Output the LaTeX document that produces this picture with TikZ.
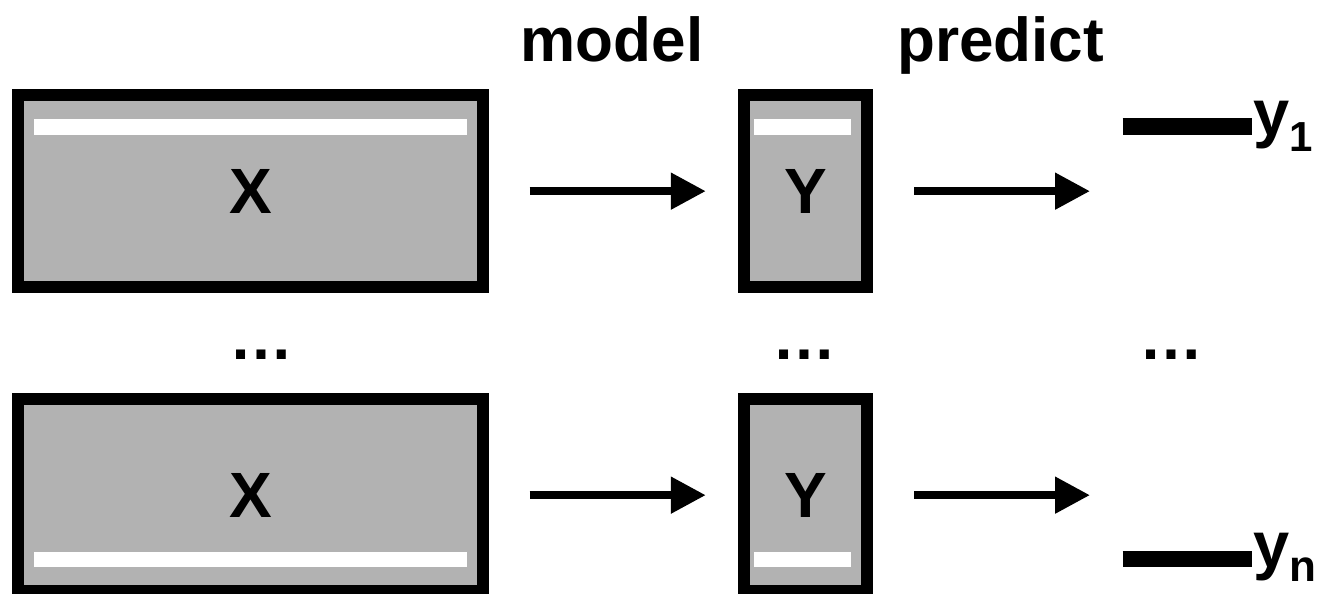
\documentclass[tikz,border=0pt]{standalone}
\usepackage{fontspec}
\setmainfont{Liberation Sans}
\usetikzlibrary{arrows.meta}
\definecolor{boxgray}{RGB}{178,178,178}
\begin{document}
\begin{tikzpicture}[x=1pt,y=-1pt,
  box/.style={draw=black, fill=boxgray, line width=12pt, inner sep=0pt,
    font=\fontsize{64pt}{64pt}\selectfont\bfseries},
  bigbox/.style={box, minimum width=464.4pt, minimum height=191.7pt},
  smallbox/.style={box, minimum width=123pt, minimum height=191.7pt},
  arr/.style={line width=8pt, -{Triangle[length=35pt,width=35pt]}},
  lbl/.style={font=\fontsize{62pt}{62pt}\selectfont\bfseries, inner sep=0pt, anchor=base},
  dotlbl/.style={font=\fontsize{64pt}{64pt}\selectfont\bfseries, inner sep=0pt, anchor=base},
  bar/.style={fill=white},
  outline/.style={line width=16.5pt},
  outlbl/.style={inner sep=0pt, anchor=base west, font=\bfseries}]
\useasboundingbox (0,0) rectangle (1320,594);

% headers
\node[lbl] (model) at (612,62) {model};
\node[lbl] (predict) at (1000.5,62) {predict};

% boxes
\node[bigbox] (X1) at (250.5,191.15) {X};
\node[smallbox] (Y1) at (805.8,191.15) {Y};
\node[bigbox] (X2) at (250.5,495.15) {X};
\node[smallbox] (Y2) at (805.8,495.15) {Y};

% white bars
\fill[bar] (34.3,119.3) rectangle (466.7,135.3);
\fill[bar] (754.3,119.3) rectangle (850.7,135.3);
\fill[bar] (34.3,551.7) rectangle (466.7,567.3);
\fill[bar] (754.3,551.7) rectangle (850.7,567.3);

% arrows
\coordinate (P1) at (1090,191.15);
\coordinate (P2) at (1090,495.15);
\draw[arr, shorten <=41pt, shorten >=32.5pt] (X1.east) -- (Y1.west);
\draw[arr, shorten <=41pt] (Y1.east) -- (P1);
\draw[arr, shorten <=41pt, shorten >=32.5pt] (X2.east) -- (Y2.west);
\draw[arr, shorten <=41pt] (Y2.east) -- (P2);

% dots
\node[dotlbl] (d1) at (261.7,359.3) {…};
\node[dotlbl] (d2) at (804.9,359.3) {…};
\node[dotlbl] (d3) at (1171,359.3) {…};

% outputs
\coordinate (L1a) at (1122.7,126.7);
\coordinate (L1b) at (1251.7,126.7);
\draw[outline] (L1a) -- (L1b);
\node[outlbl] (y1) at (1253,135.4) {\fontsize{65pt}{65pt}\selectfont y\raisebox{-15.6pt}{\fontsize{42pt}{42pt}\selectfont 1}};
\coordinate (Lna) at (1122.7,558.8);
\coordinate (Lnb) at (1251.7,558.8);
\draw[outline] (Lna) -- (Lnb);
\node[outlbl] (yn) at (1253,567) {\fontsize{65pt}{65pt}\selectfont y\raisebox{-14.7pt}{\fontsize{44pt}{44pt}\selectfont n}};
\end{tikzpicture}
\end{document}
